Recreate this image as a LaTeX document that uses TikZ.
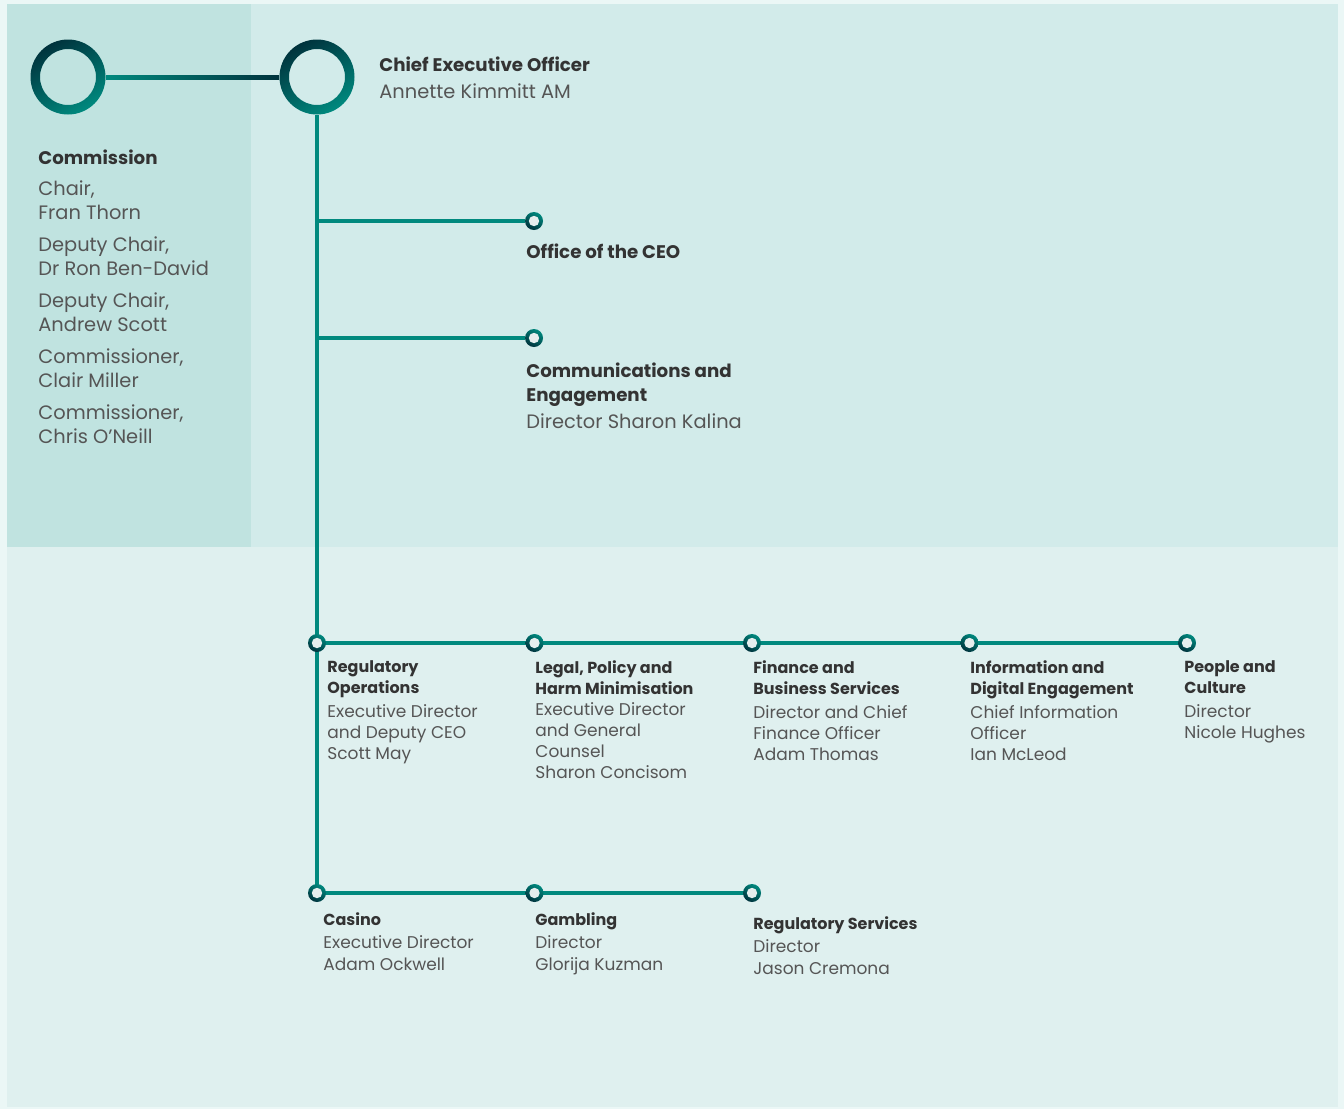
\documentclass[tikz,border=0pt]{standalone}
\usepackage{fontspec}
\setmainfont{Poppins}[BoldFeatures={Scale=0.94}]
\usetikzlibrary{positioning,calc}

\definecolor{outerbg}{HTML}{EBF7F6}
\definecolor{topbg}{HTML}{D2EBEA}
\definecolor{commbg}{HTML}{C0E3E0}
\definecolor{lowbg}{HTML}{DFF0EF}
\definecolor{linkteal}{HTML}{00897E}
\definecolor{ringdark}{HTML}{00333D}
\definecolor{dotin}{HTML}{E6EEEE}
\definecolor{headgray}{HTML}{333333}
\definecolor{bodygray}{HTML}{555555}

\newcommand{\bigfont}{\fontsize{9.7}{12}\selectfont}
\newcommand{\smallfont}{\fontsize{8.5}{10.5}\selectfont}
\newcommand{\orgtitle}[1]{\textbf{\textcolor{headgray}{#1}}}

\pgfdeclarelayer{panels}
\pgfdeclarelayer{links}
\pgfsetlayers{panels,links,main}

\begin{document}
\begin{tikzpicture}[x=0.5pt,y=-0.5pt,node distance=108.75pt]
  \tikzstyle{bigring}=[circle,minimum size=37.5pt,inner sep=0pt,
    path picture={\shade[even odd rule,left color=ringdark,right color=linkteal,shading angle=30]
      (path picture bounding box.center) circle (18.75pt) circle (14pt);}]
  \tikzstyle{dot}=[circle,minimum size=9pt,inner sep=0pt,
    path picture={\shade[left color=linkteal,right color=ringdark,shading angle=-30]
      (path picture bounding box.south west) rectangle (path picture bounding box.north east);
      \fill[dotin] (path picture bounding box.center) circle (2.6pt);}]
  \tikzstyle{link}=[draw=linkteal,line width=1.7pt]
  \tikzstyle{bigtxt}=[anchor=north west,inner sep=0pt,align=left,font=\bigfont,text=bodygray]
  \tikzstyle{smalltxt}=[anchor=north west,inner sep=0pt,align=left,font=\smallfont,text=bodygray]

  \useasboundingbox (0,0) rectangle (1344,1109);
  \begin{pgfonlayer}{panels}
    \fill[outerbg] (0,0) rectangle (1344,1109);
    \fill[lowbg] (7,4) rectangle (1338,1107);
    \fill[topbg] (7,4) rectangle (1338,547);
    \fill[commbg] (7,4) rectangle (251,547);
  \end{pgfonlayer}

  % commission and ceo
  \node[bigring](comm) at (68,77){};
  \node[bigring](ceo) at (317,77){};

  \node[dot](office) at (534,221){};
  \node[dot](comms) at (534,338){};

  % divisions
  \node[dot](regops) at (317,643){};
  \node[dot](legal)[right of=regops]{};
  \node[dot](finance)[right of=legal]{};
  \node[dot](info)[right of=finance]{};
  \node[dot](people)[right of=info]{};

  % branches
  \node[dot](casino) at (317,893){};
  \node[dot](gambling)[right of=casino]{};
  \node[dot](regserv)[right of=gambling]{};

  \begin{pgfonlayer}{links}
    \shade[left color=linkteal,right color=ringdark] ($(comm.east)+(0,-2)$) rectangle ($(ceo.west)+(0,2)$);
    \draw[link] (ceo.south) -- (casino.center);
    \draw[link] (ceo.south |- office) -- (office);
    \draw[link] (ceo.south |- comms) -- (comms);
    \draw[link,line width=2pt] (regops.center) -- (people.center);
    \draw[link,line width=2pt] (casino.center) -- (regserv.center);
  \end{pgfonlayer}

  % labels
  \node[bigtxt](ceoT) at (379,56){\orgtitle{Chief Executive Officer}\\[1.5pt]Annette Kimmitt AM};
  \node[bigtxt](commT) at (38,149){\orgtitle{Commission}\\[3.5pt]
    Chair,\\Fran Thorn\\[4pt]
    Deputy Chair,\\Dr Ron Ben-David\\[4pt]
    Deputy Chair,\\Andrew Scott\\[4pt]
    Commissioner,\\Clair Miller\\[4pt]
    Commissioner,\\Chris O'Neill};
  \node[bigtxt](officeT) at (526,243){\orgtitle{Office of the CEO}};
  \node[bigtxt](commsT) at (526,362){\orgtitle{Communications and}\\\orgtitle{Engagement}\\[1.5pt]Director Sharon Kalina};

  \node[smalltxt](regopsT) at (327,660){\orgtitle{Regulatory}\\\orgtitle{Operations}\\[1.5pt]
    Executive Director\\and Deputy CEO\\Scott May};
  \node[smalltxt](legalT) at (535,660){\orgtitle{Legal, Policy and}\\\orgtitle{Harm Minimisation}\\
    Executive Director\\and General\\Counsel\\Sharon Concisom};
  \node[smalltxt](financeT) at (753,660){\orgtitle{Finance and}\\\orgtitle{Business Services}\\[1.5pt]
    Director and Chief\\Finance Officer\\Adam Thomas};
  \node[smalltxt](infoT) at (970,660){\orgtitle{Information and}\\\orgtitle{Digital Engagement}\\[1.5pt]
    Chief Information\\Officer\\Ian McLeod};
  \node[smalltxt](peopleT) at (1184,660){\orgtitle{People and}\\\orgtitle{Culture}\\[1.5pt]
    Director\\Nicole Hughes};

  \node[smalltxt](casinoT) at (323,912){\orgtitle{Casino}\\[1pt]Executive Director\\[0.5pt]Adam Ockwell};
  \node[smalltxt](gamblingT) at (535,912){\orgtitle{Gambling}\\[1pt]Director\\[0.5pt]Glorija Kuzman};
  \node[smalltxt](regservT) at (753,916){\orgtitle{Regulatory Services}\\[1pt]Director\\[0.5pt]Jason Cremona};
\end{tikzpicture}
\end{document}
